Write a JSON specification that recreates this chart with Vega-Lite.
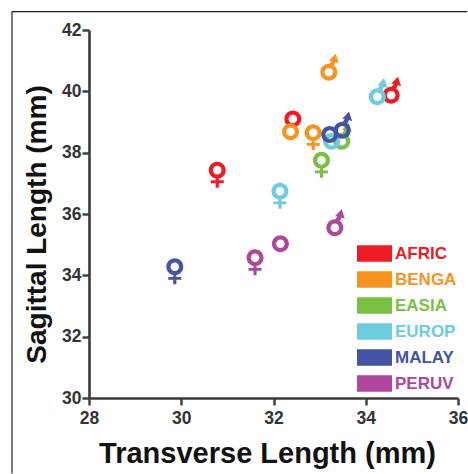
{
  "$schema": "https://vega.github.io/schema/vega-lite/v6.json",
  "width": 369,
  "height": 368,
  "autosize": "none",
  "padding": {"left": 89, "top": 30, "right": 10, "bottom": 76},
  "background": "white",
  "config": {"view": {"stroke": null}, "font": "Liberation Sans"},
  "layer": [
    {
      "data": {"values": [
        {"population": "AFRIC", "sex": "male", "transverse": 34.55, "sagittal": 39.87},
        {"population": "AFRIC", "sex": "unknown", "transverse": 32.42, "sagittal": 39.1},
        {"population": "AFRIC", "sex": "female", "transverse": 30.78, "sagittal": 37.43},
        {"population": "BENGA", "sex": "male", "transverse": 33.2, "sagittal": 40.62},
        {"population": "BENGA", "sex": "unknown", "transverse": 32.37, "sagittal": 38.68},
        {"population": "BENGA", "sex": "female", "transverse": 32.86, "sagittal": 38.65},
        {"population": "EASIA", "sex": "male", "transverse": 33.48, "sagittal": 38.37},
        {"population": "EASIA", "sex": "female", "transverse": 33.04, "sagittal": 37.75},
        {"population": "EUROP", "sex": "male", "transverse": 34.25, "sagittal": 39.82},
        {"population": "EUROP", "sex": "unknown", "transverse": 33.26, "sagittal": 38.37},
        {"population": "EUROP", "sex": "female", "transverse": 32.14, "sagittal": 36.74},
        {"population": "MALAY", "sex": "male", "transverse": 33.49, "sagittal": 38.73},
        {"population": "MALAY", "sex": "unknown", "transverse": 33.22, "sagittal": 38.59},
        {"population": "MALAY", "sex": "female", "transverse": 29.86, "sagittal": 34.28},
        {"population": "PERUV", "sex": "male", "transverse": 33.33, "sagittal": 35.55},
        {"population": "PERUV", "sex": "unknown", "transverse": 32.15, "sagittal": 35.03},
        {"population": "PERUV", "sex": "female", "transverse": 31.6, "sagittal": 34.57}
      ]},
      "mark": {"type": "point", "filled": true, "opacity": 1, "size": 400, "strokeWidth": 0},
      "encoding": {
        "x": {
          "field": "transverse", "type": "quantitative",
          "scale": {"domain": [28, 36], "nice": false, "zero": false},
          "axis": {
            "title": "Transverse Length (mm)", "values": [28, 30, 32, 34, 36], "grid": false,
            "domainColor": "#3a3a3a", "domainWidth": 2.6, "tickColor": "#3a3a3a", "tickWidth": 2.4, "tickSize": 7,
            "labelFontSize": 17.5, "labelFontWeight": "bold", "labelColor": "#333333", "labelPadding": 4, "labelFlush": false,
            "titleFontSize": 29, "titleFontWeight": "bold", "titleColor": "#111111", "titleX": 178, "titleY": 64, "titleBaseline": "alphabetic"
          }
        },
        "y": {
          "field": "sagittal", "type": "quantitative",
          "scale": {"domain": [30, 42], "nice": false, "zero": false},
          "axis": {
            "title": "Sagittal Length (mm)", "values": [30, 32, 34, 36, 38, 40, 42], "grid": false,
            "domainColor": "#3a3a3a", "domainWidth": 2.6, "tickColor": "#3a3a3a", "tickWidth": 2.4, "tickSize": 7,
            "labelFontSize": 17.5, "labelFontWeight": "bold", "labelColor": "#333333", "labelPadding": 1,
            "titleFontSize": 28, "titleFontWeight": "bold", "titleColor": "#111111", "titleX": -44, "titleY": 194, "titleBaseline": "alphabetic"
          }
        },
        "color": {
          "field": "population", "type": "nominal",
          "scale": {
            "domain": ["AFRIC", "BENGA", "EASIA", "EUROP", "MALAY", "PERUV"],
            "range": ["#ED1C24", "#F7941D", "#7AC143", "#6DCCDD", "#4353A5", "#B0479E"]
          },
          "legend": {
            "orient": "none", "legendX": 268, "legendY": 206, "title": null,
            "symbolType": "M-1,-0.47H1V0.47H-1Z", "symbolSize": 1225, "symbolStrokeWidth": 0, "symbolOpacity": 1,
            "labelFontSize": 17, "labelFontWeight": "bold", "labelOffset": 3, "rowPadding": -12, "padding": 0,
            "labelLimit": 100,
            "encode": {"labels": {"update": {"fill": {"scale": "color", "field": "value"}}}}
          }
        },
        "shape": {
          "field": "sex", "type": "nominal",
          "scale": {
            "domain": ["female", "male", "unknown"],
            "range": [
              "M-0.85,0A0.85,0.85,0,1,1,0.85,0A0.85,0.85,0,1,1,-0.85,0Z M-0.43,0A0.43,0.43,0,1,0,0.43,0A0.43,0.43,0,1,0,-0.43,0Z M-0.16,0.75H0.16V1.02H0.65V1.3H0.16V1.75H-0.16V1.3H-0.65V1.02H-0.16Z",
              "M-0.85,0A0.85,0.85,0,1,1,0.85,0A0.85,0.85,0,1,1,-0.85,0Z M-0.43,0A0.43,0.43,0,1,0,0.43,0A0.43,0.43,0,1,0,-0.43,0Z M0.05,-0.8L0.26,-1.15L0,-1.15L0.68,-1.85L1,-0.9L0.68,-1.02L0.5,-0.65Z",
              "M-0.85,0A0.85,0.85,0,1,1,0.85,0A0.85,0.85,0,1,1,-0.85,0Z M-0.43,0A0.43,0.43,0,1,0,0.43,0A0.43,0.43,0,1,0,-0.43,0Z"
            ]
          },
          "legend": null
        },
        "order": {"field": "population", "sort": "ascending"}
      }
    },
    {
      "data": {"values": [
        {"x0": 26.33, "x1": 36.2, "y0": 42.6, "y1": 42.6},
        {"x0": 26.33, "x1": 26.33, "y0": 42.6, "y1": 27.54}
      ]},
      "mark": {"type": "rule", "color": "#222222", "strokeWidth": 1.2, "clip": false},
      "encoding": {
        "x": {"field": "x0", "type": "quantitative", "scale": {"domain": [28, 36], "nice": false, "zero": false}},
        "x2": {"field": "x1"},
        "y": {"field": "y0", "type": "quantitative", "scale": {"domain": [30, 42], "nice": false, "zero": false}},
        "y2": {"field": "y1"}
      }
    }
  ]
}
